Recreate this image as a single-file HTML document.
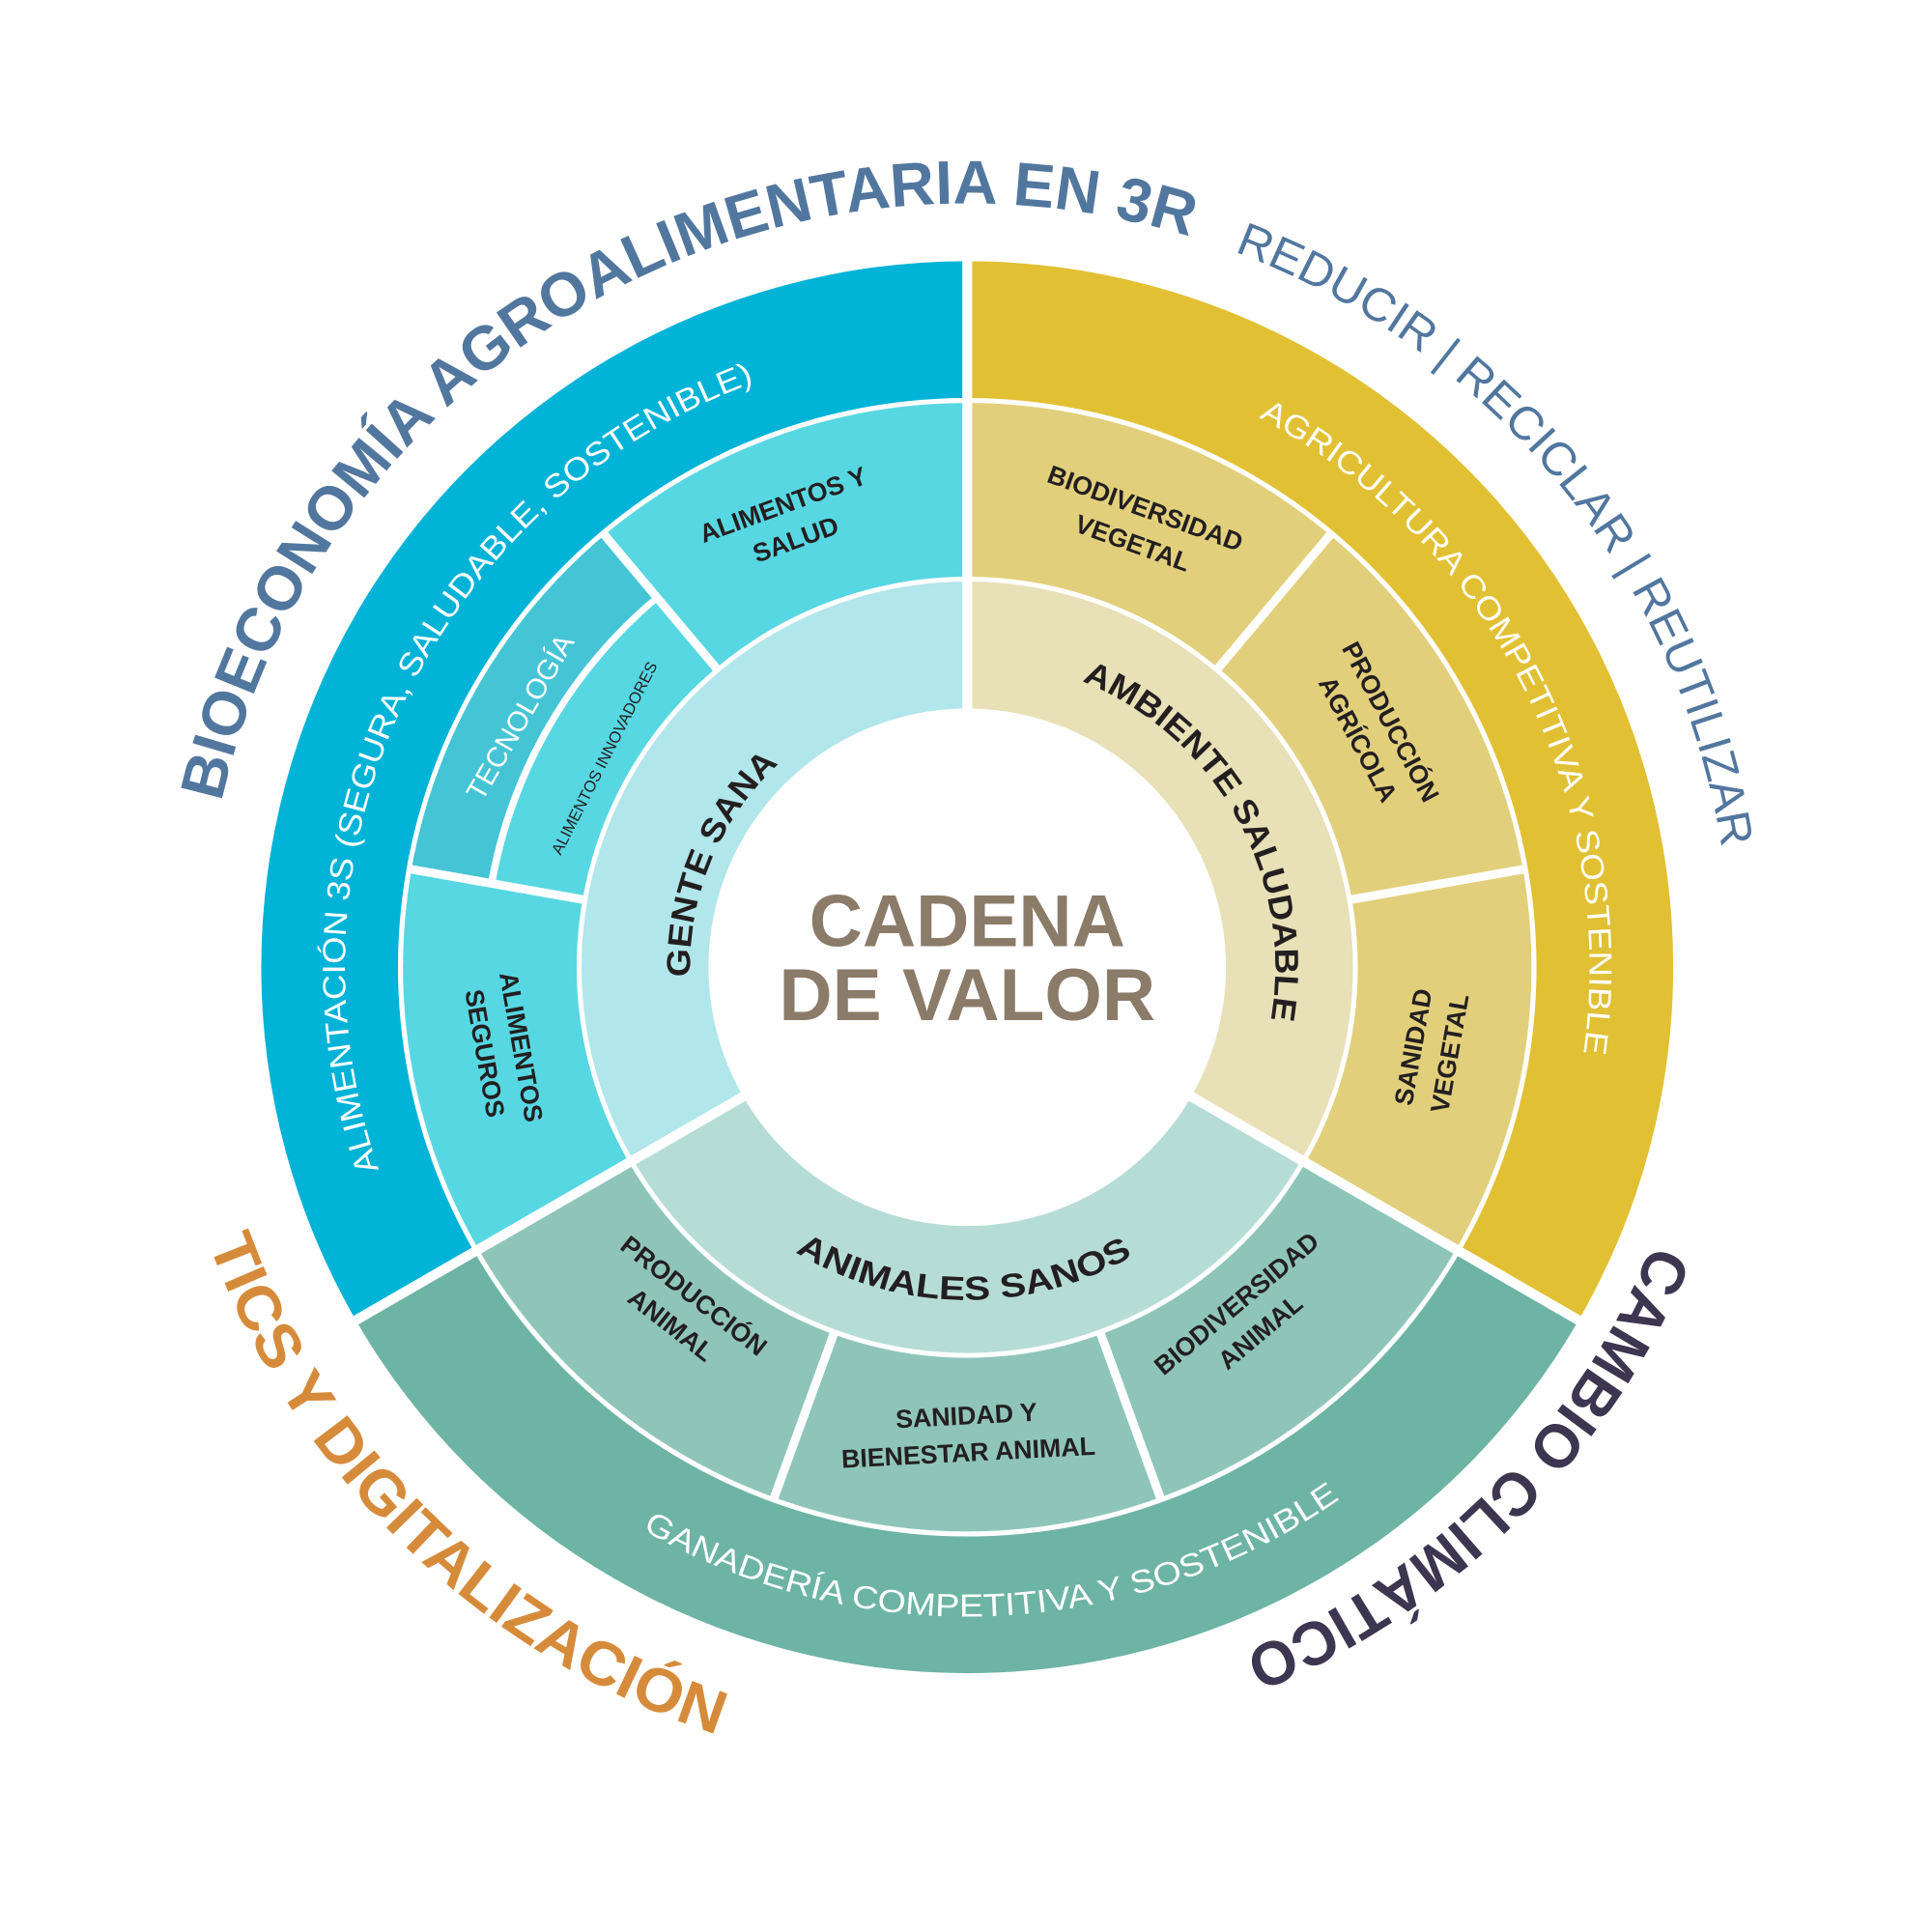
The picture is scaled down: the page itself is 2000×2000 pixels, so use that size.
<!DOCTYPE html>
<html><head><meta charset="utf-8"><style>
html,body{margin:0;padding:0;background:#fff;}
svg{display:block;}
text{font-family:"Liberation Sans",sans-serif;}
.m{font-size:21px;font-weight:bold;fill:#231f20;text-anchor:middle;}
</style></head><body>
<svg width="2000" height="2000" viewBox="0 0 1568 1568" xmlns="http://www.w3.org/2000/svg">
<defs>
<path id="pTitle" d="M165,785 A620,620 0 1 1 1395.6,892.7"/>
<path id="pTics" d="M152.3,954.5 A655,655 0 0 0 615.5,1417.7"/>
<path id="pCambio" d="M1364.5,940.3 A605,605 0 0 1 940.3,1364.5"/>
<path id="pAlim" d="M327.3,998.4 A505,505 0 0 1 654.3,297.2"/>
<path id="pAgri" d="M957.7,310.5 A505,505 0 0 1 1272.8,915.7"/>
<path id="pGan" d="M482.7,1216.7 A527,527 0 0 0 1157.6,1157.6"/>
<path id="pAmb" d="M849.7,543.5 A250,250 0 0 1 1019.9,870.5"/>
<path id="pAni" d="M611.4,991.8 A270,270 0 0 0 958.6,991.8"/>
<path id="pGen" d="M567.7,843.2 A225,225 0 0 1 689.9,581.1"/>
</defs>
<path d="M785,785 L288.8,1071.5 A573,573 0 0 1 785,212 Z" fill="#00b3d7"/>
<path d="M785,785 L785,212 A573,573 0 0 1 1281.2,1071.5 Z" fill="#e2c034"/>
<path d="M785,785 L1281.2,1071.5 A573,573 0 0 1 288.8,1071.5 Z" fill="#6db4a5"/>
<circle cx="785" cy="785" r="462" fill="#fff"/>
<path d="M785,785 L388.4,1014 A458,458 0 0 1 785,327 Z" fill="#57d7e2"/>
<path d="M785,785 L334,705.5 A458,458 0 0 1 490.6,434.2 Z" fill="#45c4d6"/>
<path d="M399,717 A392,392 0 0 1 533,485.7" fill="none" stroke="#fff" stroke-width="6"/>
<path d="M785,785 L401.9,717.5 A389,389 0 0 1 535,487 Z" fill="#57d7e2"/>
<path d="M785,785 L785,327 A458,458 0 0 1 1181.6,1014 Z" fill="#e2cf7b"/>
<path d="M785,785 L1181.6,1014 A458,458 0 0 1 388.4,1014 Z" fill="#8ec5b8"/>
<g stroke="#fff" stroke-width="7">
<line x1="785" y1="785" x2="1081.3" y2="431.9"/>
<line x1="785" y1="785" x2="1239" y2="705"/>
<line x1="785" y1="785" x2="942.7" y2="1218.2"/>
<line x1="785" y1="785" x2="627.3" y2="1218.2"/>
<line x1="785" y1="785" x2="331" y2="705"/>
<line x1="785" y1="785" x2="488.7" y2="431.9"/>
</g>
<circle cx="785" cy="785" r="317" fill="#fff"/>
<path d="M785,785 L513.9,941.5 A313,313 0 0 1 785,472 Z" fill="#b1e6eb"/>
<path d="M785,785 L785,472 A313,313 0 0 1 1056.1,941.5 Z" fill="#e8e0b6"/>
<path d="M785,785 L1056.1,941.5 A313,313 0 0 1 513.9,941.5 Z" fill="#b6ddd5"/>
<g stroke="#fff" stroke-width="8">
<line x1="785" y1="785" x2="785" y2="205"/>
<line x1="785" y1="785" x2="1287.3" y2="1075"/>
<line x1="785" y1="785" x2="282.7" y2="1075"/>
</g>
<circle cx="785" cy="785" r="210" fill="#fff"/>
<text x="785" y="768" text-anchor="middle" font-size="60" font-weight="bold" fill="#8b7b69">CADENA</text>
<text x="785" y="828" text-anchor="middle" font-size="60" font-weight="bold" fill="#8b7b69">DE VALOR</text>
<text font-size="50" font-weight="bold" fill="#52779f"><textPath href="#pTitle" startOffset="135" textLength="1022" lengthAdjust="spacingAndGlyphs">BIOECONOMÍA AGROALIMENTARIA EN 3R</textPath></text>
<text font-size="38" fill="#52779f"><textPath href="#pTitle" startOffset="1195" textLength="655" lengthAdjust="spacingAndGlyphs">REDUCIR | RECICLAR | REUTILIZAR</textPath></text>
<text font-size="50" font-weight="bold" fill="#d68b3b"><textPath href="#pTics" startOffset="57" textLength="594" lengthAdjust="spacingAndGlyphs">TICS Y DIGITALIZACIÓN</textPath></text>
<text font-size="50" font-weight="bold" fill="#3d3650"><textPath href="#pCambio" startOffset="73" textLength="482" lengthAdjust="spacingAndGlyphs">CAMBIO CLIMÁTICO</textPath></text>
<text font-size="26" fill="#fff"><textPath href="#pAlim" startOffset="53" textLength="784" lengthAdjust="spacingAndGlyphs">ALIMENTACIÓN 3S (SEGURA, SALUDABLE, SOSTENIBLE)</textPath></text>
<text font-size="26" fill="#fff"><textPath href="#pAgri" startOffset="70" textLength="617" lengthAdjust="spacingAndGlyphs">AGRICULTURA COMPETITIVA Y SOSTENIBLE</textPath></text>
<text font-size="26" fill="#fff"><textPath href="#pGan" startOffset="46" textLength="598" lengthAdjust="spacingAndGlyphs">GANADERÍA COMPETITIVA Y SOSTENIBLE</textPath></text>
<text font-size="27" font-weight="bold" fill="#231f20"><textPath href="#pAmb" startOffset="30" textLength="340" lengthAdjust="spacingAndGlyphs">AMBIENTE SALUDABLE</textPath></text>
<text font-size="27" font-weight="bold" fill="#231f20"><textPath href="#pAni" startOffset="42" textLength="287" lengthAdjust="spacingAndGlyphs">ANIMALES SANOS</textPath></text>
<text font-size="27" font-weight="bold" fill="#231f20"><textPath href="#pGen" startOffset="51" textLength="193" lengthAdjust="spacingAndGlyphs">GENTE SANA</textPath></text>
<g transform="translate(640,422) rotate(-20)"><text class="m" y="-6">ALIMENTOS Y</text><text class="m" y="24">SALUD</text></g>
<g transform="translate(925,425) rotate(20)"><text class="m" y="-6">BIODIVERSIDAD</text><text class="m" y="24">VEGETAL</text></g>
<g transform="translate(1117,592) rotate(62)"><text class="m" y="-6">PRODUCCIÓN</text><text class="m" y="24">AGRÍCOLA</text></g>
<g transform="translate(1160,852) rotate(-80)"><text class="m" y="-6">SANIDAD</text><text class="m" y="24">VEGETAL</text></g>
<g transform="translate(1012,1068) rotate(-40)"><text class="m" y="-6">BIODIVERSIDAD</text><text class="m" y="24">ANIMAL</text></g>
<g transform="translate(785,1162) rotate(-3)"><text class="m" y="-6">SANIDAD Y</text><text class="m" y="24">BIENESTAR ANIMAL</text></g>
<g transform="translate(555,1062) rotate(38)"><text class="m" y="-6">PRODUCCIÓN</text><text class="m" y="24">ANIMAL</text></g>
<g transform="translate(410,852) rotate(80)"><text class="m" y="-6">ALIMENTOS</text><text class="m" y="24">SEGUROS</text></g>
<g transform="translate(422,582) rotate(-60)"><text x="0" y="8" text-anchor="middle" font-size="23" fill="#fff">TECNOLOGÍA</text></g>
<g transform="translate(490,615) rotate(-63)"><text x="0" y="5" text-anchor="middle" font-size="13" fill="#231f20">ALIMENTOS INNOVADORES</text></g>
</svg>
</body></html>
